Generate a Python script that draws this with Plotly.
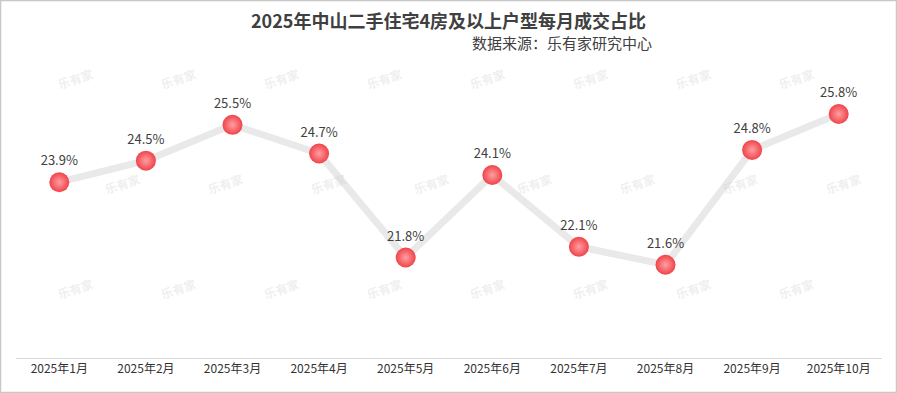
import plotly.graph_objects as go

months = ["2025年1月", "2025年2月", "2025年3月", "2025年4月", "2025年5月",
          "2025年6月", "2025年7月", "2025年8月", "2025年9月", "2025年10月"]
shares = [23.9, 24.5, 25.5, 24.7, 21.8, 24.1, 22.1, 21.6, 24.8, 25.8]
labels = [f"{v:.1f}%" for v in shares]

W, H = 897, 393
ML, MR, MT, MB = 16, 15, 71, 35
PW = W - ML - MR
PH = H - MT - MB

font_cn = "Microsoft YaHei, Noto Sans CJK SC, sans-serif"

fig = go.Figure()
fig.add_trace(go.Scatter(
    x=months, y=shares, mode="lines",
    line=dict(color="#e9e9e9", width=7),
    hoverinfo="skip", showlegend=False,
))
fig.add_trace(go.Scatter(
    x=months, y=shares, mode="markers+text",
    marker=dict(size=20, color="#f0434a",
                gradient=dict(type="radial", color="#ff9fa2"),
                line=dict(width=0)),
    text=labels, textposition="top center",
    textfont=dict(size=13, color="#404040", family=font_cn),
    showlegend=False,
))

annotations = [
    dict(text="<b>2025年中山二手住宅4房及以上户型每月成交占比</b>", xref="paper", yref="paper",
         x=(448 - ML) / PW, y=1 + (MT - 20) / PH, xanchor="center", yanchor="middle",
         showarrow=False, font=dict(size=18, color="#404040", family=font_cn)),
    dict(text="数据来源：乐有家研究中心", xref="paper", yref="paper",
         x=(654 - ML) / PW, y=1 + (MT - 43) / PH, xanchor="right", yanchor="middle",
         showarrow=False, font=dict(size=15, color="#404040", family=font_cn)),
]

# watermarks
rows = [(78, 75), (183, 122), (288, 75)]
for yy, x0 in rows:
    for i in range(9):
        xx = x0 + 103 * i
        if xx > W - 20:
            continue
        annotations.append(dict(
            text="<b>乐有家</b>", xref="paper", yref="paper",
            x=(xx - ML) / PW, y=1 - (yy - MT) / PH, xanchor="center", yanchor="middle",
            showarrow=False, textangle=-18,
            font=dict(size=12, color="rgba(200,200,200,0.3)", family=font_cn)))

shapes = [
    dict(type="rect", xref="paper", yref="paper",
         x0=-(ML - 0.5) / PW, x1=1 + (MR - 0.5) / PW,
         y0=-(MB - 0.5) / PH, y1=1 + (MT - 0.5) / PH,
         line=dict(color="#c8c8c8", width=1.5), fillcolor="rgba(0,0,0,0)", layer="below"),
]

fig.update_layout(
    width=W, height=H,
    margin=dict(l=ML, r=MR, t=MT, b=MB),
    paper_bgcolor="white", plot_bgcolor="white",
    xaxis=dict(type="category", range=[-0.5, 9.5], showgrid=False, zeroline=False,
               showline=True, linecolor="#d9d9d9", linewidth=1,
               ticks="", tickfont=dict(size=12, color="#333333", family=font_cn),
               fixedrange=True),
    yaxis=dict(range=[19, 27], visible=False, fixedrange=True),
    annotations=annotations,
    shapes=shapes,
)

fig.write_html("out.html", config={"displayModeBar": False},
               post_script="document.body.style.margin='0';document.body.style.padding='0';")
